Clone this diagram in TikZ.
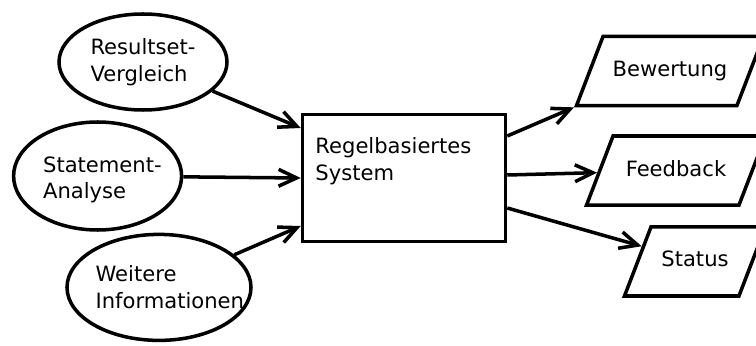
\documentclass[tikz,border=0pt]{standalone}
\usepackage{fontspec}
\setmainfont{DejaVu Sans}
\usetikzlibrary{shapes.geometric}
\usetikzlibrary{arrows.meta}
\tikzset{
    inpnode/.style = {ellipse, line width=2.5pt, draw=black, inner sep=0pt},
    sysnode/.style = {rectangle, line width=2.5pt, draw=black, minimum width=5.075cm, minimum height=3.175cm},
    outnode/.style = {trapezium, trapezium left angle=69, trapezium right angle=111,
                      trapezium stretches body, line width=2.5pt, draw=black,
                      text height=0.4cm, text depth=0.13cm, inner ysep=0.6cm},
    lbl/.style = {align=left, inner sep=0pt},
    edgen/.style = {-{Straight Barb[length=0.45cm,width=0.42cm]}, line width=2.5pt}
}
\begin{document}
\begin{tikzpicture}[font=\fontsize{15pt}{19pt}\selectfont]
  \useasboundingbox (0,0) rectangle (18.9,8.625);

  % inputs
  \node[inpnode, minimum width=4.2cm, minimum height=2.4cm,
        label={[lbl]center:Resultset-\\Vergleich}] (res) at (3.575,7.075) {};
  \node[inpnode, minimum width=4.2cm, minimum height=2.7cm,
        label={[lbl, xshift=0.12cm, yshift=-0.1cm]center:Statement-\\Analyse}] (stm) at (2.44,4.225) {};
  \node[inpnode, minimum width=4.6cm, minimum height=2.65cm,
        label={[lbl, xshift=0.27cm]center:Weitere\\Informationen}] (wei) at (3.975,1.44) {};

  % rule engine
  \node[sysnode, label={[lbl, anchor=north west, xshift=0.36cm, yshift=-0.61cm]north west:Regelbasiertes\\System}] (sys) at (10.1,4.175) {};

  % outputs
  \node[outnode, minimum width=4.675cm] (bew) at (16.75,6.85) {Bewertung};
  \node[outnode, minimum width=4.475cm] (fb) at (16.9,4.36) {Feedback};
  \node[outnode, minimum width=3.525cm] (st) at (17.375,2.09) {Status};

  \draw[edgen] (res) -- ([yshift=1.25cm]sys.west);
  \draw[edgen] (stm) -- (sys.west);
  \draw[edgen] (wei) -- ([yshift=-1.2cm]sys.west);

  \draw[edgen] ([yshift=1.05cm]sys.east) -- (bew.bottom left corner);
  \draw[edgen] ([yshift=0.075cm]sys.east) -- (fb);
  \draw[edgen] ([yshift=-0.75cm]sys.east) -- (st);

\end{tikzpicture}
\end{document}
